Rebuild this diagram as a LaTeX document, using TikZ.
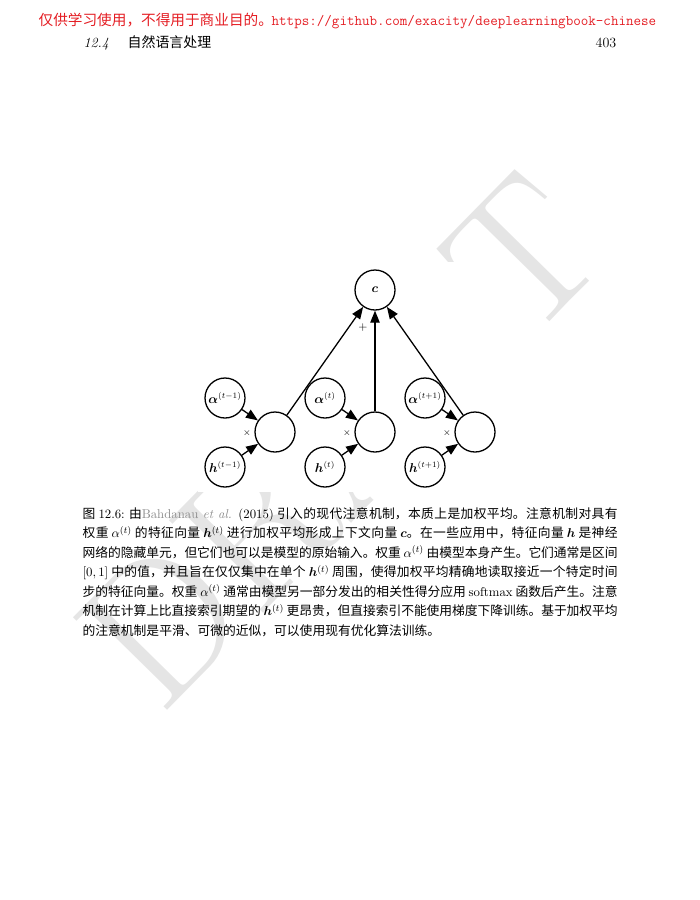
\documentclass[tikz,border=0pt]{standalone}
\usepackage{amsmath,bm}
\usepackage{fontspec}
\newfontfamily\cjk{Noto Sans CJK SC}
\usetikzlibrary{arrows.meta,automata}
\XeTeXlinebreaklocale "zh"
\XeTeXlinebreakskip = 0pt plus 2pt minus 0.3pt
\definecolor{notered}{RGB}{228,30,36}
\definecolor{citegray}{gray}{0.55}
\newcommand\lat[1]{{\normalfont#1}}

\begin{document}
\begin{tikzpicture}[x=0.3mm,y=-0.3mm,>={Triangle[length=3.6mm,width=2.8mm]},
		line width=1.1pt]
	\useasboundingbox (0,0) rectangle (700,900);
	\tikzstyle{every state}=[fill=white,draw=black,text=black,
		minimum size=12mm,inner sep=0pt,line width=1.1pt,
		font=\fontsize{10.6}{12}\selectfont]
	% watermark and the white box of the figure over it
	\node[text=black!10,rotate=45.5,inner sep=0pt,
		font=\fontsize{165}{165}\selectfont] (draft) at (340,440) {DRAFT};
	\fill[white] (198,262) rectangle (505,492);
	% running head
	\node[anchor=base west,inner sep=0pt,text=notered,
		font=\cjk\fontsize{12.5}{13}\selectfont] (note) at (38,25)
		{仅供学习使用，不得用于商业目的。};
	\node[anchor=base west,inner sep=0pt,text=notered,
		font=\ttfamily\fontsize{12.5}{13}\selectfont] (url) at (271,25)
		{https://github.com/exacity/deeplearningbook-chinese};
	\node[anchor=base west,inner sep=0pt,font=\itshape\fontsize{12}{14}\selectfont]
		(secnum) at (83,47) {12.4};
	\node[anchor=base west,inner sep=0pt,font=\cjk\fontsize{11.9}{14}\selectfont]
		(sectitle) at (127,47) {自然语言处理};
	\node[anchor=base east,inner sep=0pt,font=\fontsize{12}{14}\selectfont]
		(page) at (617,47) {403};
	% the figure
	\node[state] (c) at (375,290) {$\bm{c}$};
	\node (plus) at (363,328) {$+$};
	\foreach \i/\x/\s in {1/275/t-1,2/375/t,3/475/t+1}{
		\node[state] (m\i) at (\x,432) {};
		\node[state] (a\i) at ({\x-50},398) {$\bm{\alpha}^{(\s)}$};
		\node[state] (h\i) at ({\x-50},467) {$\bm{h}^{(\s)}$};
		\node[font=\footnotesize] (times\i) at ({\x-28},433) {$\times$};
		\path[->] (a\i) edge (m\i)
		          (h\i) edge (m\i)
		          (m\i) edge (c);
	}
	% caption
	\node[anchor=north west,inner sep=0pt,text width=160.5mm,align=justify,
		font=\cjk\fontsize{10.9}{16.6}\selectfont] (caption) at (82,507) {\noindent
		图 \lat{12.6:} 由\lat{\textcolor{citegray}{Bahdanau \textit{et al.}} (2015)} 引入的现代注意机制，本质上是加权平均。注意机制对具有\linebreak
		权重 $\alpha^{(t)}$ 的特征向量 $\bm{h}^{(t)}$ 进行加权平均形成上下文向量 $\bm{c}$。在一些应用中，特征向量 $\bm{h}$ 是神经\linebreak
		网络的隐藏单元，但它们也可以是模型的原始输入。权重 $\alpha^{(t)}$ 由模型本身产生。它们通常是区间\linebreak
		$[0,1]$ 中的值，并且旨在仅仅集中在单个 $\bm{h}^{(t)}$ 周围，使得加权平均精确地读取接近一个特定时间\linebreak
		步的特征向量。权重 $\alpha^{(t)}$ 通常由模型另一部分发出的相关性得分应用 \lat{softmax} 函数后产生。注意\linebreak
		机制在计算上比直接索引期望的 $\bm{h}^{(t)}$ 更昂贵，但直接索引不能使用梯度下降训练。基于加权平均\linebreak
		的注意机制是平滑、可微的近似，可以使用现有优化算法训练。};
\end{tikzpicture}
\end{document}
